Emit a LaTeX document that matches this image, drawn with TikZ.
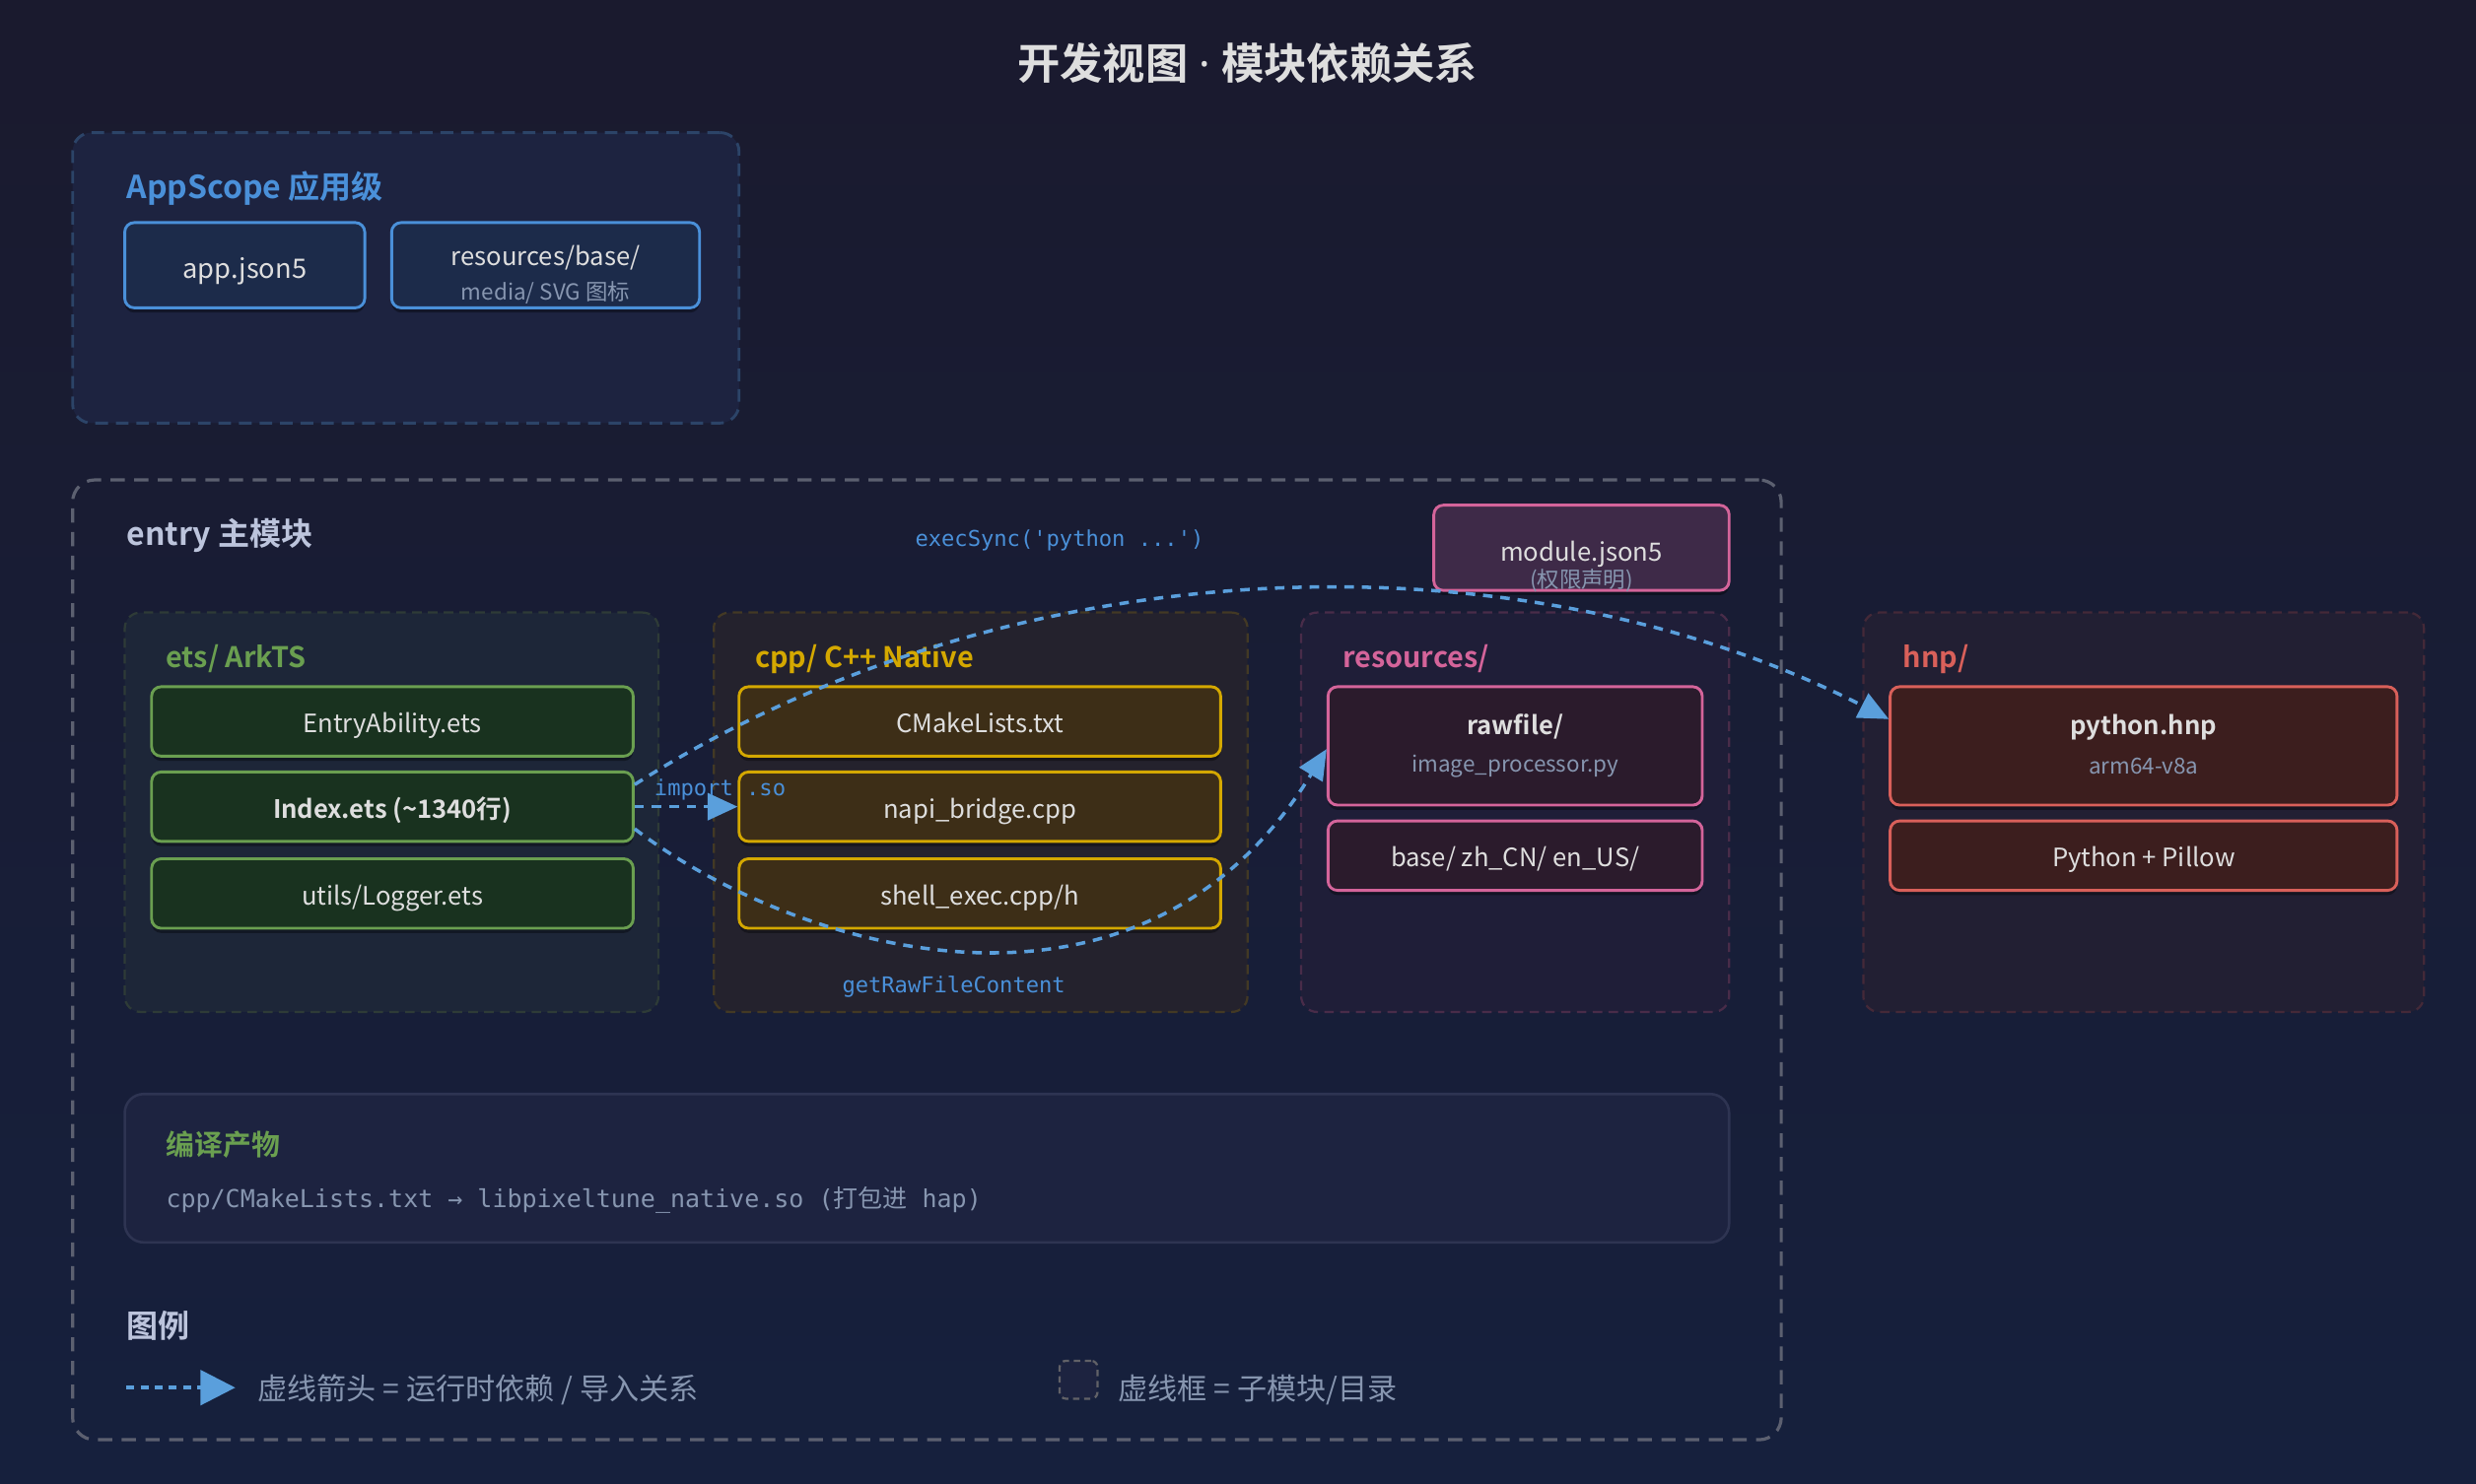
\documentclass[tikz,border=0pt]{standalone}
\usepackage{fontspec}
\setmainfont{Noto Sans CJK SC}[BoldFont={Noto Sans CJK SC Bold}]
\setmonofont{DejaVu Sans Mono}
\newfontfamily\cjkfont{Noto Sans CJK SC}
\newfontfamily\latinsans{Noto Sans}
\usetikzlibrary{arrows.meta,shadows}
\definecolor{bgtop}{HTML}{1A1A2E}
\definecolor{bgbot}{HTML}{16203D}
\definecolor{txtl}{HTML}{DEDEDE}
\definecolor{subt}{HTML}{8796B0}
\definecolor{bluec}{HTML}{4A90D9}
\definecolor{arrc}{HTML}{5A9FDC}
\definecolor{entryc}{HTML}{BCC4DC}
\definecolor{greenc}{HTML}{6A9F50}
\definecolor{greenf}{HTML}{19321F}
\definecolor{yellc}{HTML}{D4A800}
\definecolor{yellf}{HTML}{3D2E17}
\definecolor{pinkc}{HTML}{D4649A}
\definecolor{pinkf}{HTML}{2B1B2C}
\definecolor{modf}{HTML}{3E2A48}
\definecolor{redc}{HTML}{D9605A}
\definecolor{redf}{HTML}{3C1E1E}
\definecolor{appf}{HTML}{1C2B4A}
\definecolor{panelf}{HTML}{1D2340}
\definecolor{appbd}{HTML}{2C4468}
\definecolor{entrybd}{HTML}{5C6070}
\definecolor{etsf}{HTML}{1D2638}
\definecolor{cppf}{HTML}{24222D}
\definecolor{resf}{HTML}{1F1E38}
\definecolor{hnpf}{HTML}{221F33}
\definecolor{compbd}{HTML}{2E3452}
\begin{document}
\begin{tikzpicture}[x=1pt,y=-1pt,
  grp/.style={draw, line width=1.4pt, dash pattern=on 6pt off 4pt, rounded corners=10pt, inner sep=0pt},
  fbox/.style={draw, line width=1.8pt, rounded corners=6pt, inner sep=0pt, text=txtl,
     font=\fontsize{16}{19}\selectfont, text height=14.4pt, text depth=0pt,
     drop shadow={shadow xshift=0pt, shadow yshift=-3pt, opacity=0.35, fill=black}},
  gbox/.style={fbox, draw=greenc, fill=greenf, minimum width=305, minimum height=44},
  ybox/.style={fbox, draw=yellc, fill=yellf, minimum width=305, minimum height=44},
  pbox/.style={fbox, draw=pinkc, fill=pinkf, minimum width=237},
  rbox/.style={fbox, draw=redc, fill=redf, minimum width=321},
  ttl/.style={inner sep=0pt, anchor=west, font=\bfseries\fontsize{18}{20}\selectfont},
  lbl/.style={inner sep=0pt, font=\fontsize{16}{19}\selectfont, text=txtl},
  sub/.style={inner sep=0pt, font=\fontsize{14}{16}\selectfont, text=subt},
  code/.style={inner sep=0pt, font=\ttfamily\fontsize{13.8}{16}\selectfont, text=bluec},
  dep/.style={draw=arrc, line width=2.2pt, dash pattern=on 6pt off 5pt,
     -{Triangle[length=19pt,width=17pt]}, fill=none}
]
\useasboundingbox (0,0) rectangle (1568,940);
\shade[top color=bgtop, bottom color=bgbot] (0,0) rectangle (1568,940);

% title
\node[inner sep=0pt, text=txtl, font=\bfseries\fontsize{27}{30}\selectfont] (title) at (790,40) {开发视图{\latinsans\bfseries\ ·\ }模块依赖关系};

% AppScope
\node[grp, draw=appbd, fill=panelf, line width=1.8pt, dash pattern=on 8pt off 5pt, rounded corners=12pt, minimum width=422, minimum height=184] (appscope) at (257,176) {};
\node[ttl, text=bluec, font=\bfseries\fontsize{20}{24}\selectfont] (applbl) at (80,119.5) {AppScope 应用级};
\node[fbox, draw=bluec, fill=appf, minimum width=152, minimum height=54, font=\fontsize{17}{20}\selectfont, text height=16.5pt] (appjson) at (155,168) {app.json5};
\node[fbox, draw=bluec, fill=appf, minimum width=195, minimum height=54] (resbase) at (345.5,168) {};
\node[lbl] (resbaset) at (345.5,163.5) {resources/base/};
\node[sub] (resbases) at (345.5,185.5) {media/ SVG 图标};

% entry
\node[grp, draw=entrybd, line width=2pt, dash pattern=on 9pt off 6pt, rounded corners=14pt, minimum width=1082, minimum height=608] (entry) at (587,608) {};
\node[ttl, text=entryc, font=\bfseries\fontsize{20}{24}\selectfont] (entrylbl) at (80,339.5) {entry 主模块};
\node[code] (execlbl) at (671,342) {execSync('python ...')};

% module.json5
\node[fbox, draw=pinkc, fill=modf, minimum width=187, minimum height=54] (module) at (1001.5,347) {};
\node[lbl] (modt) at (1001.5,351) {module.json5};
\node[sub] (mods) at (1001.5,368) {(权限声明)};

% groups
\node[grp, draw=greenc!25!bgtop, fill=etsf, minimum width=338, minimum height=253] (etsg) at (248,514.5) {};
\node[grp, draw=yellc!22!bgtop, fill=cppf, minimum width=338, minimum height=253] (cppg) at (621,514.5) {};
\node[grp, draw=pinkc!25!bgtop, fill=resf, minimum width=271, minimum height=253] (resg) at (959.5,514.5) {};
\node[grp, draw=redc!22!bgtop, fill=hnpf, minimum width=355, minimum height=253] (hnpg) at (1357.5,514.5) {};

\node[ttl, text=greenc] (etsl) at (105,417.5) {ets/ ArkTS};
\node[ttl, text=yellc] (cppl) at (478,417.5) {cpp/ C++ Native};
\node[ttl, text=pinkc] (resl) at (850,417.5) {resources/};
\node[ttl, text=redc] (hnpl) at (1205,417.5) {hnp/};

% ets files
\node[gbox] (entryab) at (248.5,457) {EntryAbility.ets};
\node[gbox, font=\bfseries\fontsize{16}{19}\selectfont] (idx) at (248.5,511) {Index.ets (\textasciitilde1340行)};
\node[gbox] (logger) at (248.5,566) {utils/Logger.ets};

% cpp files
\node[ybox] (cmake) at (620.5,457) {CMakeLists.txt};
\node[ybox] (napi) at (620.5,511) {napi\_bridge.cpp};
\node[ybox] (shell) at (620.5,566) {shell\_exec.cpp/h};
\node[code] (rawlbl) at (604,625) {getRawFileContent};

% resources
\node[pbox, minimum height=75] (raw) at (959.5,472.5) {};
\node[lbl, font=\bfseries\fontsize{16}{19}\selectfont] (rawt) at (959.5,460.5) {rawfile/};
\node[sub] (raws) at (959.5,485.5) {image\_processor.py};
\node[pbox, minimum height=44] (base) at (959.5,542) {base/ zh\_CN/ en\_US/};

% hnp
\node[rbox, minimum height=75] (pyhnp) at (1357.5,472.5) {};
\node[lbl, font=\bfseries\fontsize{16}{19}\selectfont] (pyt) at (1357.5,460.5) {python.hnp};
\node[sub] (pys) at (1357.5,485.5) {arm64-v8a};
\node[rbox, minimum height=44] (pillow) at (1357.5,542) {Python + Pillow};

% connectors
\draw[dep] (idx.east) -- (napi.west);
\node[code] (implbl) at (456,500) {import .so};
\draw[dep] ([yshift=14pt]idx.east) .. controls (640,345) and (960,335) .. ([yshift=17pt]pyhnp.west);
\draw[dep] ([yshift=-14pt]idx.east) .. controls (500,600) and (720,670) .. ([yshift=-2pt]raw.west);

% compile artifacts
\node[draw=compbd, line width=1.6pt, fill=panelf, rounded corners=12pt, inner sep=0pt, minimum width=1016, minimum height=94] (compile) at (587,740) {};
\node[ttl, text=greenc] (compl) at (105,725) {编译产物};
\node[inner sep=0pt, anchor=west, text=subt, font=\fontsize{15.6}{18}\selectfont] (compt) at (105,760) {\ttfamily cpp/CMakeLists.txt → libpixeltune\_native.so (\cjkfont 打包进\ttfamily\ hap)};

% legend
\node[ttl, text=entryc, font=\bfseries\fontsize{20}{24}\selectfont] (leglbl) at (80,840) {图例};
\coordinate (lgA) at (80,879);
\coordinate (lgB) at (149,879);
\draw[dep, dash pattern=on 5pt off 4pt, -{Triangle[length=22pt,width=22pt]}] (lgA) -- (lgB);
\node[inner sep=0pt, anchor=west, text=subt, font=\fontsize{18.8}{22}\selectfont] (legt1) at (163,880.5) {虚线箭头 = 运行时依赖 / 导入关系};
\node[draw=gray!70!bgtop, line width=1.4pt, dash pattern=on 4pt off 3pt, fill=panelf, rounded corners=4pt, inner sep=0pt, minimum width=24, minimum height=24] (legsq) at (683,874) {};
\node[inner sep=0pt, anchor=west, text=subt, font=\fontsize{18.8}{22}\selectfont] (legt2) at (708,880.5) {虚线框 = 子模块/目录};
\end{tikzpicture}
\end{document}
